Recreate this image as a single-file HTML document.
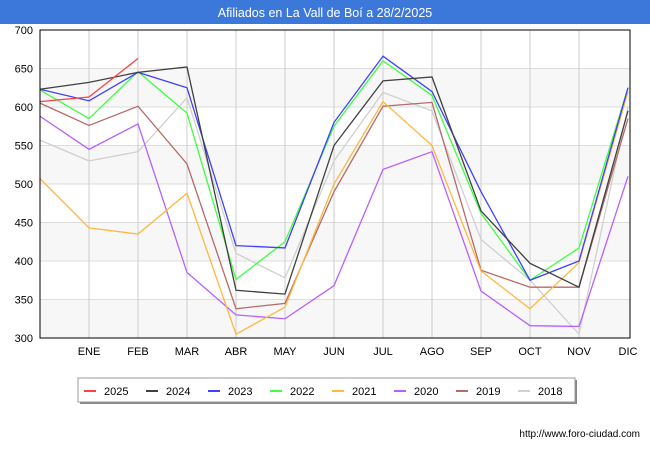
<!DOCTYPE html>
<html><head><meta charset="utf-8"><style>
body{margin:0;width:650px;height:450px;background:#fff;font-family:"Liberation Sans",sans-serif;overflow:hidden}
</style></head><body>
<svg width="650" height="450" xmlns="http://www.w3.org/2000/svg" font-family="Liberation Sans, sans-serif">
<rect x="0" y="0" width="650" height="24" fill="#3b78d9"/>
<text x="325" y="17" text-anchor="middle" fill="#fff" font-size="12.5">Afiliados en La Vall de Boí a 28/2/2025</text>
<g id="grid"></g>
<g id="series"></g>
<rect x="40" y="30" width="590" height="308" fill="none" stroke="#000" stroke-width="1"/>
<g id="legend"></g>
<text x="640" y="437" text-anchor="end" font-size="10" fill="#000">http://www.foro-ciudad.com</text>
</svg>
<script>
const months=["","ENE","FEB","MAR","ABR","MAY","JUN","JUL","AGO","SEP","OCT","NOV","DIC"];
const yTicks=[300,350,400,450,500,550,600,650,700];
const years=["2025","2024","2023","2022","2021","2020","2019","2018"];
const colors=["#ff4040","#404040","#4040ff","#40ff40","#ffb840","#b860ff","#b86a6a","#d0d0d0"];
const s2025=[607,613,663];
const s2024=[623,632,645,652,362,357,550,634,639,465,397,366,595];
const s2023=[623,608,645,625,420,417,580,666,620,490,375,400,625];
const s2022=[622,585,646,592,376,425,575,660,615,462,375,417,625];
const s2021=[507,443,435,488,305,340,500,607,550,387,338,398,620];
const s2020=[588,545,578,385,330,325,368,519,542,361,316,315,510];
const s2019=[605,576,601,526,338,345,490,601,606,388,366,366,585];
const s2018=[557,530,542,612,410,378,530,619,595,428,375,305,600];
const allSeries=[s2025,s2024,s2023,s2022,s2021,s2020,s2019,s2018];
const NS="http://www.w3.org/2000/svg";
const X=i=>40+49*i, Y=v=>338-(v-300)*308/400;
function mk(t,a,p){const e=document.createElementNS(NS,t);for(const k in a)e.setAttribute(k,a[k]);p.appendChild(e);return e;}
const grid=document.getElementById('grid');
for(let k=0;k<yTicks.length-1;k++){if(k%2===0){const r=mk('rect',{x:40,y:Y(yTicks[k+1]),width:590,height:Y(yTicks[k])-Y(yTicks[k+1]),fill:'#f7f7f7'},grid);}}
yTicks.forEach(v=>{const l=mk('line',{x1:40,x2:630,y1:Y(v),y2:Y(v),stroke:'#ddd'},grid);
const t=mk('text',{x:33,y:Y(v)+4,'text-anchor':'end','font-size':11},grid);t.textContent=v;});
months.forEach((m,i)=>{if(i>0&&i<12){const l=mk('line',{x1:X(i),x2:X(i),y1:30,y2:338,stroke:'#ccc'},grid);}
if(m){const t=mk('text',{x:X(i),y:355,'text-anchor':'middle','font-size':11},grid);t.textContent=m;}});
const sg=document.getElementById('series');
for(let k=allSeries.length-1;k>=0;k--){const p=mk('polyline',{points:allSeries[k].map((v,i)=>X(i)+','+Y(v)).join(' '),fill:'none',stroke:colors[k],'stroke-width':1.3},sg);
}
const lg=document.getElementById('legend');
mk('rect',{x:80,y:380,width:497,height:24,fill:'#888'},lg);
const box=mk('rect',{x:78,y:378,width:497,height:24,fill:'#fff',stroke:'#999'},lg);

years.forEach((y,k)=>{const x0=84+62*k;const g=mk('g',{},lg);
mk('line',{x1:x0,x2:x0+12,y1:391,y2:391,stroke:colors[k],'stroke-width':2},g);
const t=mk('text',{x:x0+20,y:395,'font-size':11},g);t.textContent=y;});
</script>
</body></html>
